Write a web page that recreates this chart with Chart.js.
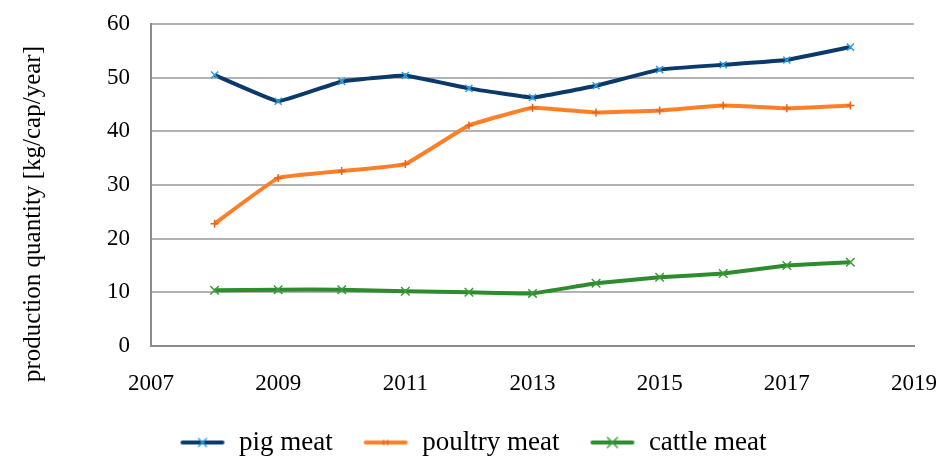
<!DOCTYPE html>
<html>
<head>
<meta charset="utf-8">
<script src="https://cdn.jsdelivr.net/npm/chart.js@4.4.0/dist/chart.umd.min.js"></script>
<style>
  html, body { margin: 0; padding: 0; background: #fff; overflow: hidden; }
  #wrap { width: 945px; height: 466px; }
</style>
</head>
<body>
<div id="wrap"><canvas id="chart"></canvas></div>
<script>
// years on the x axis
const years = [2008, 2009, 2010, 2011, 2012, 2013, 2014, 2015, 2016, 2017, 2018]

// production quantity, kg/cap/year
const pigMeat     = [50.5, 45.6, 49.3, 50.4, 48.0, 46.3, 48.5, 51.5, 52.4, 53.3, 55.7]
const poultryMeat = [22.8, 31.3, 32.6, 33.9, 41.1, 44.4, 43.5, 43.9, 44.8, 44.3, 44.8]
const cattleMeat  = [10.4, 10.5, 10.5, 10.2, 10.0,  9.8, 11.7, 12.8, 13.5, 15.0, 15.6]

const seriesNames = ['pig meat', 'poultry meat', 'cattle meat']
const yTitle = 'production quantity [kg/cap/year]'

const FONT = "'Liberation Serif', 'DejaVu Serif', serif"

function toPoints(values) {
  return values.map(function(v, i){
    return { x: years[i], y: v }
  })
}

// little legend picture: line with its marker in the middle
function legendIcon(lineColor, markColor, style, size) {
  const c = document.createElement('canvas')
  c.width = 46
  c.height = 16
  const ctx = c.getContext('2d')
  ctx.strokeStyle = lineColor
  ctx.lineWidth = 4
  ctx.lineCap = 'round'
  ctx.beginPath()
  ctx.moveTo(3, 8)
  ctx.lineTo(43, 8)
  ctx.stroke()
  ctx.strokeStyle = markColor
  ctx.lineWidth = 1.5
  ctx.beginPath()
  if (style === 'crossRot') {
    ctx.moveTo(23 - size, 8 - size); ctx.lineTo(23 + size, 8 + size)
    ctx.moveTo(23 + size, 8 - size); ctx.lineTo(23 - size, 8 + size)
  } else {
    ctx.moveTo(23 - size, 8 - size); ctx.lineTo(23 - size, 8 + size)
    ctx.moveTo(23 + size, 8 - size); ctx.lineTo(23 + size, 8 + size)
  }
  ctx.stroke()
  return c
}

const icons = [
  legendIcon('#0b3a6a', '#2a9fe0', 'crossRot', 4),
  legendIcon('#ff7f27', '#e8641a', 'bars', 2),
  legendIcon('#2e8b2e', '#3a9a3a', 'crossRot', 5)
]

// y axis title, drawn a bit below the middle like the original
const yTitlePlugin = {
  id: 'yTitle',
  afterLayout: function(ch){
    // legend sits a little right of the plot centre in the original
    ch.legend.left += 7
    ch.legend.right += 7
  },
  afterDraw: function(ch){
    const ctx = ch.ctx
    ctx.save()
    ctx.translate(33, 214)
    ctx.rotate(-Math.PI / 2)
    ctx.font = '25px ' + FONT
    ctx.fillStyle = '#000'
    ctx.textAlign = 'center'
    ctx.textBaseline = 'middle'
    ctx.fillText(yTitle, 0, 0)
    ctx.restore()
  }
}

function makeDataset(label, values, lineColor, markColor, style, radius) {
  return {
    label: label,
    data: toPoints(values),
    borderColor: lineColor,
    backgroundColor: lineColor,
    borderWidth: 4,
    tension: 0.08,
    pointStyle: style,
    pointRadius: radius,
    pointBorderColor: markColor,
    pointBorderWidth: 1.5
  }
}

const chart = new Chart(document.getElementById('chart'), {
  type: 'line',
  data: {
    datasets: [
      makeDataset(seriesNames[0], pigMeat, '#0b3a6a', '#2a9fe0', 'crossRot', 5),
      makeDataset(seriesNames[1], poultryMeat, '#ff7f27', '#e8641a', 'cross', 4),
      makeDataset(seriesNames[2], cattleMeat, '#2e8b2e', '#3a9a3a', 'crossRot', 6)
    ]
  },
  options: {
    responsive: true,
    maintainAspectRatio: false,
    animation: false,
    layout: { padding: { left: 18, right: 31, top: 24, bottom: 0 } },
    scales: {
      x: {
        type: 'linear',
        min: 2007,
        max: 2019,
        afterFit: function(s){
          s.height = 53
          s.paddingLeft = 0
          s.paddingRight = 0
        },
        ticks: {
          stepSize: 2,
          color: '#000',
          font: { family: FONT, size: 23 },
          padding: 24,
          maxRotation: 0,
          callback: function(v){ return String(v) }
        },
        grid: { display: false, drawTicks: false },
        border: { display: true, color: '#8c8c8c', width: 2 }
      },
      y: {
        min: 0,
        max: 60,
        afterFit: function(s){
          s.width = 133
          s.paddingTop = 0
          s.paddingBottom = 0
        },
        ticks: {
          stepSize: 10,
          color: '#000',
          font: { family: FONT, size: 23 },
          padding: 21
        },
        grid: { color: '#b3b3b3', lineWidth: 2, drawTicks: false },
        border: { display: true, color: '#8c8c8c', width: 2 }
      }
    },
    plugins: {
      legend: {
        position: 'bottom',
        labels: {
          color: '#000',
          font: { family: FONT, size: 27 },
          usePointStyle: true,
          pointStyleWidth: 46,
          padding: 30,
          generateLabels: function(ch){
            return ch.data.datasets.map(function(ds, i){
              return {
                text: ds.label,
                fontColor: '#000',
                pointStyle: icons[i],
                datasetIndex: i,
                hidden: false,
                lineWidth: 0
              }
            })
          }
        }
      },
      tooltip: { enabled: false }
    }
  },
  plugins: [yTitlePlugin]
})
</script>
</body>
</html>
